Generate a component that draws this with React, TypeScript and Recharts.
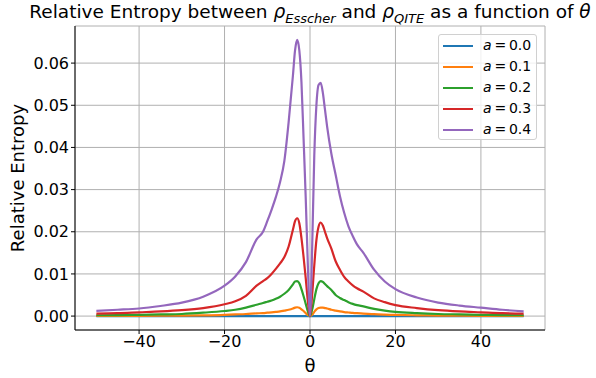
import React from "react";
import {
  LineChart,
  Line,
  XAxis,
  YAxis,
  CartesianGrid,
} from "recharts";

const theta = [
  -50, -45, -40, -35, -30, -25, -20, -17.5, -15, -12.5, -11, -10, -9, -8, -7, -6, -5, -4, -3.5, -3, -2.5, -2,
  -1.5, -1, -0.5, 0, 0.5, 1, 1.5, 2, 2.5, 3, 3.5, 4, 5, 6, 7, 8, 9, 10, 11, 12.5, 15, 17.5, 20, 25, 30, 35, 40,
  45, 50,
];

const a00 = theta.map(() => 0);

const a01 = [
  0.00005, 0.00006, 0.00007, 0.00009, 0.00012, 0.00018, 0.0003, 0.0004, 0.0005, 0.00065, 0.00072, 0.0008,
  0.00088, 0.00098, 0.0011, 0.0013, 0.0015, 0.0018, 0.002, 0.0021, 0.002, 0.0016, 0.0012, 0.0007, 0.00025, 0,
  0.0003, 0.001, 0.0016, 0.0019, 0.002, 0.002, 0.0019, 0.0018, 0.0015, 0.0013, 0.0011, 0.00095, 0.00085,
  0.00075, 0.00068, 0.0006, 0.00045, 0.00035, 0.00027, 0.00018, 0.00012, 0.00009, 0.00007, 0.00006, 0.00005,
];

const a02 = [
  0.0002, 0.00025, 0.0003, 0.0004, 0.0005, 0.0008, 0.0012, 0.0015, 0.002, 0.0027, 0.0031, 0.0034, 0.0037,
  0.0041, 0.0046, 0.0053, 0.0062, 0.0075, 0.0082, 0.0083, 0.0078, 0.0064, 0.0047, 0.0029, 0.0011, 0, 0.0015,
  0.004, 0.0064, 0.0078, 0.0083, 0.0081, 0.0076, 0.0071, 0.0062, 0.005, 0.0043, 0.0038, 0.0033, 0.0029,
  0.0026, 0.0023, 0.0017, 0.0013, 0.001, 0.0007, 0.0005, 0.0004, 0.0003, 0.00025, 0.0002,
];

const a03 = [
  0.0006, 0.0007, 0.0009, 0.0011, 0.0014, 0.0019, 0.0028, 0.0035, 0.0048, 0.0072, 0.0083, 0.009, 0.01,
  0.0112, 0.0125, 0.014, 0.0165, 0.0205, 0.0225, 0.0232, 0.022, 0.0185, 0.014, 0.009, 0.0035, 0, 0.005, 0.012,
  0.018, 0.0212, 0.0222, 0.0215, 0.02, 0.0185, 0.016, 0.013, 0.011, 0.0093, 0.0082, 0.0073, 0.0066, 0.0058,
  0.0042, 0.0033, 0.0026, 0.0019, 0.0014, 0.0011, 0.0009, 0.0007, 0.0006,
];

const a04 = [
  0.00125, 0.0015, 0.0018, 0.0024, 0.0032, 0.0046, 0.0072, 0.0094, 0.0128, 0.0182, 0.02, 0.0225, 0.0252,
  0.0282, 0.0318, 0.0368, 0.046, 0.057, 0.063, 0.0655, 0.063, 0.0555, 0.042, 0.028, 0.012, 0, 0.016, 0.038,
  0.05, 0.0548, 0.0553, 0.053, 0.049, 0.045, 0.0385, 0.0335, 0.0285, 0.0245, 0.0213, 0.019, 0.017, 0.015,
  0.011, 0.0082, 0.0064, 0.0044, 0.0032, 0.0025, 0.002, 0.0015, 0.0011,
];

const xTicks = [-40, -20, 0, 20, 40];
const yTicks = [0, 0.01, 0.02, 0.03, 0.04, 0.05, 0.06];

const seriesList = [
  { key: "a0", label: "0.0", color: "#1f77b4", values: a00 },
  { key: "a1", label: "0.1", color: "#ff7f0e", values: a01 },
  { key: "a2", label: "0.2", color: "#2ca02c", values: a02 },
  { key: "a3", label: "0.3", color: "#d62728", values: a03 },
  { key: "a4", label: "0.4", color: "#9467bd", values: a04 },
];

const data = theta.map((t, i) => {
  const row: { [k: string]: number } = { theta: t };
  seriesList.forEach((s) => (row[s.key] = s.values[i]));
  return row;
});

const font = "DejaVu Sans, sans-serif";
const tickStyle = { fill: "#000", fontSize: 16, fontFamily: font };

const fmtX = (v: number) => (v < 0 ? "\u2212" + Math.abs(v) : String(v));

// matplotlib-style legend box, upper right inside the axes
const LegendBox = () => (
  <div
    style={{
      position: "absolute",
      left: 438,
      top: 34,
      width: 99,
      height: 106,
      boxSizing: "border-box",
      border: "1px solid #d0d0d0",
      borderRadius: 3,
      background: "rgba(255,255,255,0.8)",
      padding: "0 0 0 4px",
      fontFamily: font,
      fontSize: 14,
      whiteSpace: "nowrap",
    }}
  >
    {seriesList.map((s) => (
      <div key={s.key} style={{ display: "flex", alignItems: "center", height: 21, lineHeight: "21px" }}>
        <span style={{ display: "inline-block", width: 30, height: 2, background: s.color, marginRight: 10 }} />
        <span>
          <i>a</i>&thinsp;=&thinsp;{s.label}
        </span>
      </div>
    ))}
  </div>
);

export default function App() {
  return (
    <div style={{ position: "absolute", left: 0, top: 0, width: 596, height: 378, background: "#fff" }}>
      <div
        style={{
          position: "absolute",
          top: 0,
          left: 24,
          width: 572,
          textAlign: "center",
          fontFamily: font,
          fontSize: 18.5,
          lineHeight: "24px",
          whiteSpace: "nowrap",
        }}
      >
        Relative Entropy between <i>ρ</i>
        <sub style={{ fontSize: 13, fontStyle: "italic", lineHeight: 0 }}>Esscher</sub> and <i>ρ</i>
        <sub style={{ fontSize: 13, fontStyle: "italic", lineHeight: 0 }}>QITE</sub> as a function of <i>θ</i>
      </div>
      <LineChart
        width={596}
        height={378}
        data={data}
        margin={{ top: 26, right: 51, bottom: 0, left: 0 }}
      >
        <CartesianGrid stroke="#b0b0b0" strokeWidth={1} />
        <XAxis
          dataKey="theta"
          type="number"
          domain={[-55, 55]}
          ticks={xTicks}
          tickFormatter={fmtX}
          tick={tickStyle}
          tickSize={4}
          tickLine={{ stroke: "#000" }}
          axisLine={{ stroke: "#000" }}
          height={48}
          label={{ value: "θ", position: "insideBottom", offset: 6, fill: "#000", fontSize: 18, fontFamily: font }}
        />
        <XAxis xAxisId="top" orientation="top" type="number" domain={[-55, 55]} tick={false} tickLine={false} height={0} axisLine={{ stroke: "#000" }} />
        <YAxis
          type="number"
          domain={[-0.0033, 0.0688]}
          allowDataOverflow
          ticks={yTicks}
          tickFormatter={(v: number) => v.toFixed(2)}
          tick={tickStyle}
          tickSize={4}
          tickLine={{ stroke: "#000" }}
          axisLine={{ stroke: "#000" }}
          width={75}
          label={{
            value: "Relative Entropy",
            angle: -90,
            position: "insideLeft",
            offset: 18,
            style: { textAnchor: "middle", fill: "#000", fontSize: 18, fontFamily: font },
          }}
        />
        <YAxis yAxisId="right" orientation="right" tick={false} tickLine={false} width={0} axisLine={{ stroke: "#000" }} />
        {seriesList.map((s) => (
          <Line
            key={s.key}
            dataKey={s.key}
            stroke={s.color}
            strokeWidth={2.2}
            dot={false}
            type="monotone"
            isAnimationActive={false}
          />
        ))}
      </LineChart>
      <LegendBox />
    </div>
  );
}
